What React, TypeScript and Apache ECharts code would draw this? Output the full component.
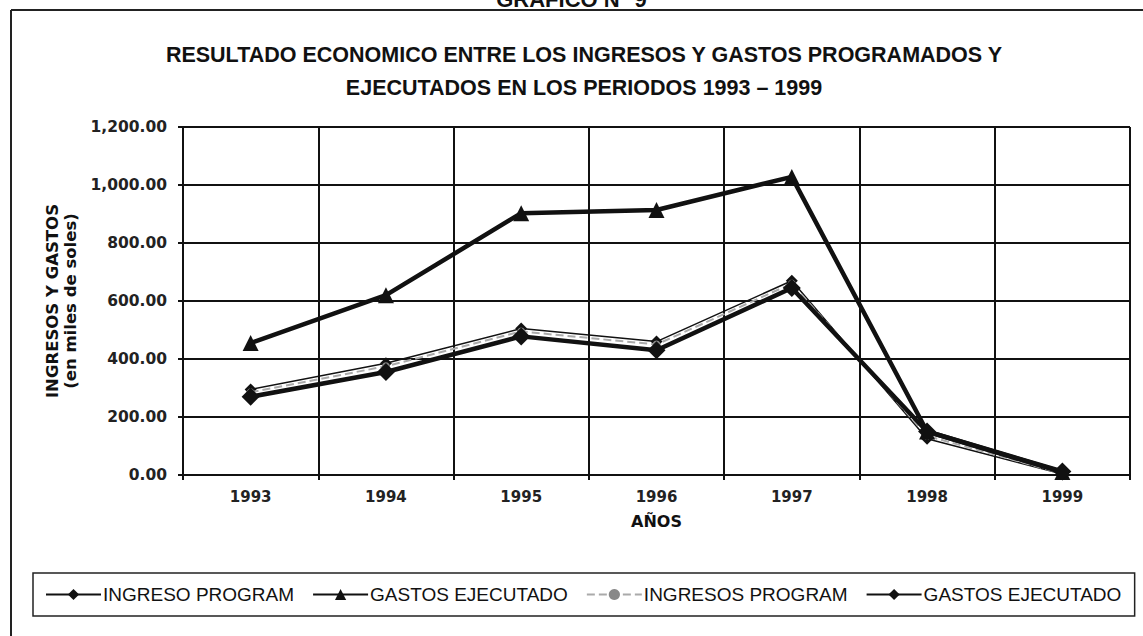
import React, { useEffect, useRef } from "react";
import * as echarts from "echarts";

const years = ["1993", "1994", "1995", "1996", "1997", "1998", "1999"];
const ingresoProgram = [295, 385, 505, 460, 670, 125, 3];
const gastosEjecutadoTri = [455, 620, 903, 914, 1028, 150, 10];
const ingresosProgram = [285, 375, 495, 450, 660, 135, 5];
const gastosEjecutado = [270, 355, 478, 430, 645, 150, 12];
const yTicks = { min: 0, max: 1200, interval: 200 };

const fmt = (v: number) =>
  v.toLocaleString("en-US", { minimumFractionDigits: 2, maximumFractionDigits: 2 });

export default function App() {
  const ref = useRef<HTMLDivElement>(null);
  useEffect(() => {
    if (!ref.current) return;
    const chart = echarts.init(ref.current, undefined, { renderer: "svg" });
    const bold = "DejaVu Sans";
    chart.setOption({
      animation: false,
      backgroundColor: "#fff",
      title: {
        text: "RESULTADO ECONOMICO ENTRE LOS INGRESOS Y GASTOS PROGRAMADOS Y\nEJECUTADOS EN LOS PERIODOS 1993 – 1999",
        left: 579,
        textAlign: "center",
        top: 33,
        textStyle: {
          fontFamily: "Liberation Sans",
          fontWeight: "bold",
          fontSize: 21.5,
          lineHeight: 33,
          color: "#111",
        },
      },
      graphic: [
        {
          type: "text",
          left: "center",
          top: -12,
          style: {
            text: "GRAFICO N° 9",
            font: "bold 22px 'Liberation Sans'",
            fill: "#111",
          },
        },
        {
          type: "line",
          shape: { x1: 11, y1: 10, x2: 1143, y2: 10 },
          style: { stroke: "#222", lineWidth: 2 },
        },
        {
          type: "line",
          shape: { x1: 11, y1: 10, x2: 11, y2: 636 },
          style: { stroke: "#222", lineWidth: 2 },
        },
      ],
      legend: {
        left: 33,
        top: 573,
        orient: "horizontal",
        itemWidth: 55,
        itemHeight: 14,
        itemGap: 18,
        padding: [12, 8, 12, 12],
        borderColor: "#222",
        borderWidth: 1.5,
        textStyle: {
          fontFamily: "Liberation Sans",
          fontSize: 19,
          color: "#111",
          padding: [0, 0, 0, -3],
        },
        data: [
          { name: "INGRESO PROGRAM" },
          { name: "GASTOS EJECUTADO" },
          { name: "INGRESOS PROGRAM" },
          { name: "GASTOS EJECUTADO " },
        ],
      },
      grid: { left: 183, right: 13, top: 127, bottom: 161 },
      xAxis: {
        type: "category",
        data: years,
        boundaryGap: true,
        name: "AÑOS",
        nameLocation: "middle",
        nameGap: 38,
        nameTextStyle: { fontFamily: bold, fontWeight: "bold", fontSize: 16, color: "#111" },
        axisLine: { show: true, lineStyle: { color: "#111", width: 2 } },
        axisTick: { show: true, length: 5, lineStyle: { color: "#111", width: 2 } },
        axisLabel: { fontFamily: bold, fontWeight: "bold", fontSize: 15, color: "#222", margin: 14 },
        splitLine: { show: true, lineStyle: { color: "#111", width: 2 } },
      },
      yAxis: {
        type: "value",
        min: yTicks.min,
        max: yTicks.max,
        interval: yTicks.interval,
        name: "INGRESOS Y GASTOS\n(en miles de soles)",
        nameLocation: "middle",
        nameRotate: 90,
        nameGap: 104,
        nameTextStyle: {
          fontFamily: bold,
          fontWeight: "bold",
          fontSize: 16.5,
          lineHeight: 18,
          color: "#111",
        },
        axisLine: { show: true, lineStyle: { color: "#111", width: 2 } },
        axisTick: { show: true, length: 5, lineStyle: { color: "#111", width: 2 } },
        axisLabel: {
          fontFamily: bold,
          fontWeight: "bold",
          fontSize: 15.5,
          color: "#222",
          margin: 16,
          formatter: (v: number) => fmt(v),
        },
        splitLine: { show: true, lineStyle: { color: "#111", width: 2 } },
      },
      series: [
        {
          name: "INGRESO PROGRAM",
          type: "line",
          data: ingresoProgram,
          symbol: "diamond",
          symbolSize: 12,
          lineStyle: { color: "#111", width: 1.5 },
          itemStyle: { color: "#111" },
          z: 2,
        },
        {
          name: "GASTOS EJECUTADO",
          type: "line",
          data: gastosEjecutadoTri,
          symbol: "triangle",
          symbolSize: 16,
          lineStyle: { color: "#111", width: 4.5 },
          itemStyle: { color: "#111" },
          z: 4,
        },
        {
          name: "INGRESOS PROGRAM",
          type: "line",
          data: ingresosProgram,
          symbol: "circle",
          symbolSize: 8,
          lineStyle: { color: "#aaa", width: 2, type: "dashed" },
          itemStyle: { color: "#888" },
          z: 3,
        },
        {
          name: "GASTOS EJECUTADO ",
          type: "line",
          data: gastosEjecutado,
          symbol: "diamond",
          symbolSize: 18,
          lineStyle: { color: "#111", width: 4.5 },
          itemStyle: { color: "#111" },
          z: 5,
        },
      ],
    });
    return () => chart.dispose();
  }, []);
  return (
    <div
      ref={ref}
      style={{ position: "absolute", left: 0, top: 0, width: 1143, height: 636 }}
    />
  );
}
